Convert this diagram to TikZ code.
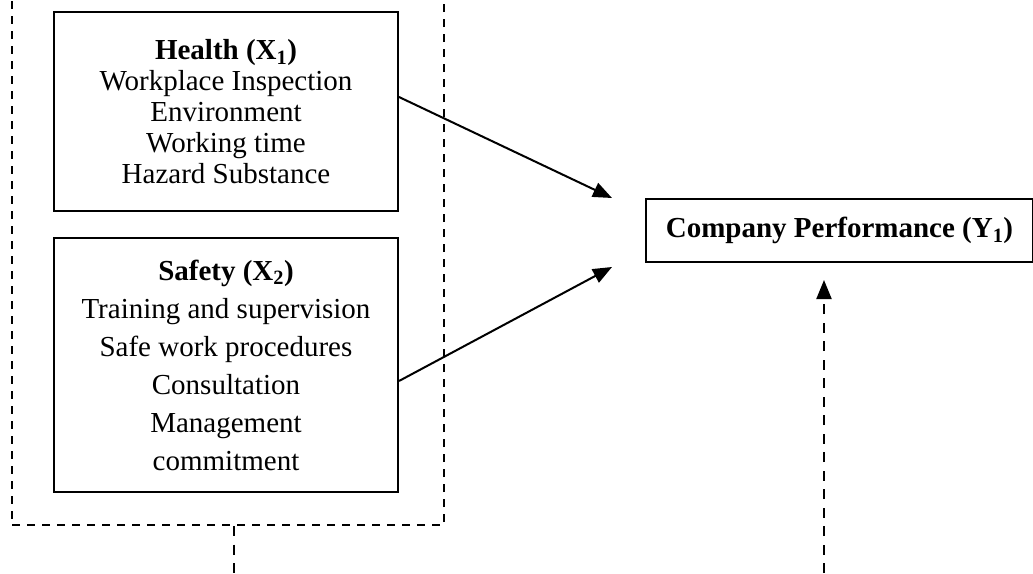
\documentclass[tikz,border=0pt]{standalone}
\usepackage{fontspec}
\setmainfont{Liberation Serif}
\usetikzlibrary{arrows.meta,calc}
\begin{document}
\begin{tikzpicture}[x=1pt,y=-1pt,
  varbox/.style={draw,line width=2pt,align=center,inner sep=0pt,minimum width=344pt},
  conn/.style={line width=2pt,-{Triangle[length=19pt,width=15pt]}},
  grpbox/.style={draw,line width=2pt,dash pattern=on 8pt off 7pt,inner sep=0pt},
  dconn/.style={line width=2pt,dash pattern=on 10pt off 8.5pt}]
\useasboundingbox (0,0) rectangle (1033,573);
\node[grpbox,minimum width=432pt,minimum height=565pt] (outer) at (228,242.5) {};
\node[varbox,minimum height=199pt,font=\fontsize{29}{31}\selectfont] (health) at (226,111.5)
  {\textbf{Health (X\textsubscript{1})}\\Workplace Inspection\\Environment\\Working time\\Hazard Substance};
\node[varbox,minimum height=254pt,font=\fontsize{29}{38}\selectfont] (safety) at (226,365)
  {\textbf{Safety (X\textsubscript{2})}\\Training and supervision\\Safe work procedures\\Consultation\\Management\\commitment};
\node[draw,line width=2pt,inner sep=0pt,minimum width=387pt,minimum height=63pt,font=\fontsize{29}{31}\selectfont\bfseries] (perf) at (839.5,230.5)
  {Company Performance (Y\textsubscript{1})};
\coordinate (hend) at (612,198);
\coordinate (send) at (612,267);
\draw[conn] (health.east |- 0,97) -- (hend);
\draw[conn] (safety.east |- 0,381) -- (send);
\coordinate (gdown) at (234,573);
\draw[dconn] (outer.south -| gdown) -- (gdown);
\coordinate (yup) at (824,573);
\draw[dconn,-{Triangle[length=19pt,width=15pt]},shorten >=17pt] (yup) -- (yup |- perf.south);
\end{tikzpicture}
\end{document}
